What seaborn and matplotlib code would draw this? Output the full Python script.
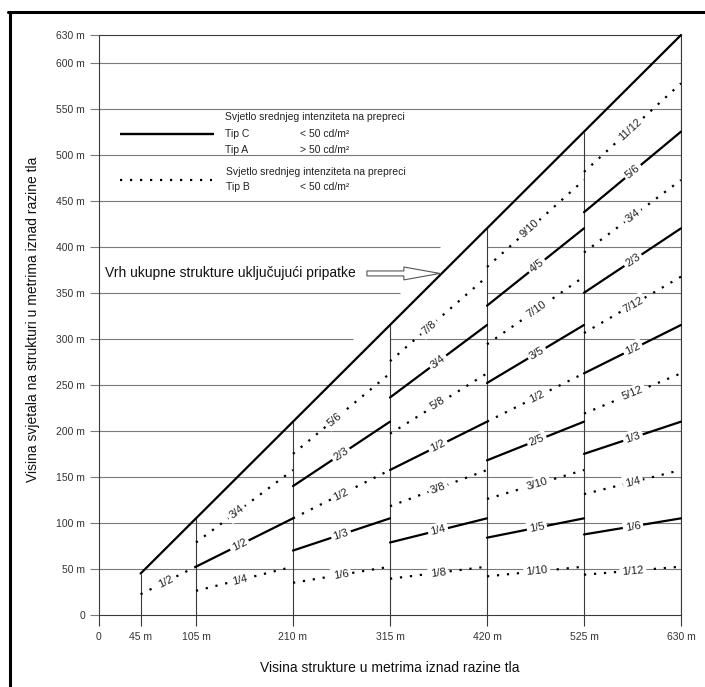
import matplotlib
matplotlib.use("Agg")
import matplotlib.pyplot as plt
import seaborn as sns
import pandas as pd
import numpy as np
from fractions import Fraction
from matplotlib.lines import Line2D
from matplotlib.patches import Polygon

# ---------------- data ----------------
structure_heights = [45, 105, 210, 315, 420, 525, 630]
x_tick_labels = ["0", "45 m", "105 m", "210 m", "315 m", "420 m", "525 m", "630 m"]
y_ticks = [0, 50, 100, 150, 200, 250, 300, 350, 400, 450, 500, 550, 600, 630]
y_tick_labels = ["0", "50 m", "100 m", "150 m", "200 m", "250 m", "300 m", "350 m",
                 "400 m", "450 m", "500 m", "550 m", "600 m", "630 m"]

fractions_45_105 = ["1/2"]
styles_45_105 = ["dotted"]
fractions_105_210 = ["1/4", "1/2", "3/4"]
styles_105_210 = ["dotted", "solid", "dotted"]
fractions_210_315 = ["1/6", "1/3", "1/2", "2/3", "5/6"]
styles_210_315 = ["dotted", "solid", "dotted", "solid", "dotted"]
fractions_315_420 = ["1/8", "1/4", "3/8", "1/2", "5/8", "3/4", "7/8"]
styles_315_420 = ["dotted", "solid", "dotted", "solid", "dotted", "solid", "dotted"]
fractions_420_525 = ["1/10", "1/5", "3/10", "2/5", "1/2", "3/5", "7/10", "4/5", "9/10"]
styles_420_525 = ["dotted", "solid", "dotted", "solid", "dotted", "solid", "dotted", "solid", "dotted"]
fractions_525_630 = ["1/12", "1/6", "1/4", "1/3", "5/12", "1/2", "7/12", "2/3", "3/4", "5/6", "11/12"]
styles_525_630 = ["dotted", "solid", "dotted", "solid", "dotted", "solid",
                  "dotted", "solid", "dotted", "solid", "dotted"]

interval_fractions = [fractions_45_105, fractions_105_210, fractions_210_315,
                      fractions_315_420, fractions_420_525, fractions_525_630]
interval_styles = [styles_45_105, styles_105_210, styles_210_315,
                   styles_315_420, styles_420_525, styles_525_630]

# label placement (layout only)
label_x = [72, 152, 262, 367, 474, 578]
top_label_x = [72, 149, 255, 357, 466, 575]

# ---------------- build long table ----------------
rows = []
for i, (a, b) in enumerate(zip(structure_heights[:-1], structure_heights[1:])):
    for frac, sty in zip(interval_fractions[i], interval_styles[i]):
        f = float(Fraction(frac))
        seg = f"{i}-{frac}"
        rows.append(dict(seg=seg, kind=sty, x=a, y=f * a))
        rows.append(dict(seg=seg, kind=sty, x=b, y=f * b))
rows.append(dict(seg="top", kind="solid", x=structure_heights[0], y=structure_heights[0]))
rows.append(dict(seg="top", kind="solid", x=structure_heights[-1], y=structure_heights[-1]))
df = pd.DataFrame(rows)

# ---------------- figure ----------------
sns.set_style("white")
plt.rcParams["font.family"] = ["Liberation Sans", "DejaVu Sans"]

fig = plt.figure(figsize=(7.05, 6.87), dpi=100)
ax = fig.add_axes([99 / 705, 1 - 615 / 687, 582 / 705, 580 / 687])
ax.set_xlim(0, 630)
ax.set_ylim(0, 630)

grid_color = "#7a7a7a"
dark = "#3a3a3a"

# horizontal grid lines (with gaps near the annotation)
gaps = {400: (369, 420), 350: (326, 420), 300: (275, 315)}
for yv in y_ticks[1:-1]:
    if yv in gaps:
        g0, g1 = gaps[yv]
        ax.hlines(yv, 0, g0, color=grid_color, lw=0.8, zorder=1)
        ax.hlines(yv, g1, 630, color=grid_color, lw=0.8, zorder=1)
    else:
        ax.hlines(yv, 0, 630, color=grid_color, lw=0.8, zorder=1)

# vertical separators up to the top-of-structure line
ax.vlines(structure_heights, 0, structure_heights, color=dark, lw=0.8, zorder=2)

# segments
sns.lineplot(data=df, x="x", y="y", units="seg", style="kind", estimator=None,
             dashes={"solid": "", "dotted": (1, 3.5)}, color="black", lw=1.6,
             sort=False, legend=False, ax=ax, zorder=3)
for ln in ax.lines:
    ln.set_clip_on(False)

# fraction labels
for i, (a, b) in enumerate(zip(structure_heights[:-1], structure_heights[1:])):
    fr = interval_fractions[i]
    for k, frac in enumerate(fr):
        f = float(Fraction(frac))
        lx = top_label_x[i] if k == len(fr) - 1 else label_x[i]
        ax.text(lx, f * lx, frac, rotation=np.degrees(np.arctan(f)),
                transform_rotates_text=True, rotation_mode="anchor",
                ha="center", va="center", fontsize=8, color="#222222", zorder=5,
                bbox=dict(boxstyle="square,pad=0.22", fc="white", ec="none"))

# spines and ticks
for s in ["left", "bottom", "top", "right"]:
    ax.spines[s].set_color(dark)
    ax.spines[s].set_linewidth(0.8)
ax.set_xticks([0] + structure_heights)
ax.set_xticklabels(x_tick_labels)
ax.set_yticks(y_ticks)
ax.set_yticklabels(y_tick_labels)
ax.tick_params(axis="x", direction="out", length=8, width=0.8, color=dark,
               labelsize=7.5, labelcolor="#333333", pad=4, bottom=True)
ax.tick_params(axis="y", direction="out", length=6.5, width=0.8, color=grid_color,
               labelsize=7.5, labelcolor="#333333", pad=3.5, left=True)

ax.set_xlabel("Visina strukture u metrima iznad razine tla", fontsize=10, color="#111111")
ax.set_ylabel("Visina svjetala na strukturi u metrima iznad razine tla", fontsize=10, color="#111111")
ax.xaxis.set_label_coords(0.5, -0.079)
ax.yaxis.set_label_coords(-0.101, 0.51)

# legend drawn by hand
ax.plot([23, 125], [523, 523], color="black", lw=1.7, solid_capstyle="butt", zorder=4)
ax.plot([23, 122], [473, 473], color="black", lw=1.6, ls=(0, (1, 3.5)), zorder=4)
lt = dict(fontsize=7.5, color="#222222", va="center", zorder=4)
ax.text(136, 541, "Svjetlo srednjeg intenziteta na prepreci", ha="left", **lt)
ax.text(136, 523, "Tip C", ha="left", **lt)
ax.text(271, 523, "< 50 cd/m²", ha="right", **lt)
ax.text(136, 505, "Tip A", ha="left", **lt)
ax.text(271, 505, "> 50 cd/m²", ha="right", **lt)
ax.text(138, 481, "Svjetlo srednjeg intenziteta na prepreci", ha="left", **lt)
ax.text(138, 465, "Tip B", ha="left", **lt)
ax.text(271, 465, "< 50 cd/m²", ha="right", **lt)

# annotation with outlined arrow
ax.text(7, 371, "Vrh ukupne strukture uključujući pripatke", fontsize=10,
        color="#111111", ha="left", va="center", zorder=4)
arrow = Polygon([(290, 368.3), (330, 368.3), (330, 364), (369, 371), (330, 378),
                 (330, 373.7), (290, 373.7)], closed=True, fc="white", ec="#555555",
                lw=0.8, zorder=4)
ax.add_patch(arrow)

# outer frame (top and left edges visible)
fig.add_artist(Line2D([9.5 / 705, 9.5 / 705], [0, 1 - 12 / 687], transform=fig.transFigure,
                      color="black", lw=2.2))
fig.add_artist(Line2D([8 / 705, 1], [1 - 12 / 687, 1 - 12 / 687], transform=fig.transFigure,
                      color="black", lw=2.2))

fig.savefig("out.png", dpi=100)
